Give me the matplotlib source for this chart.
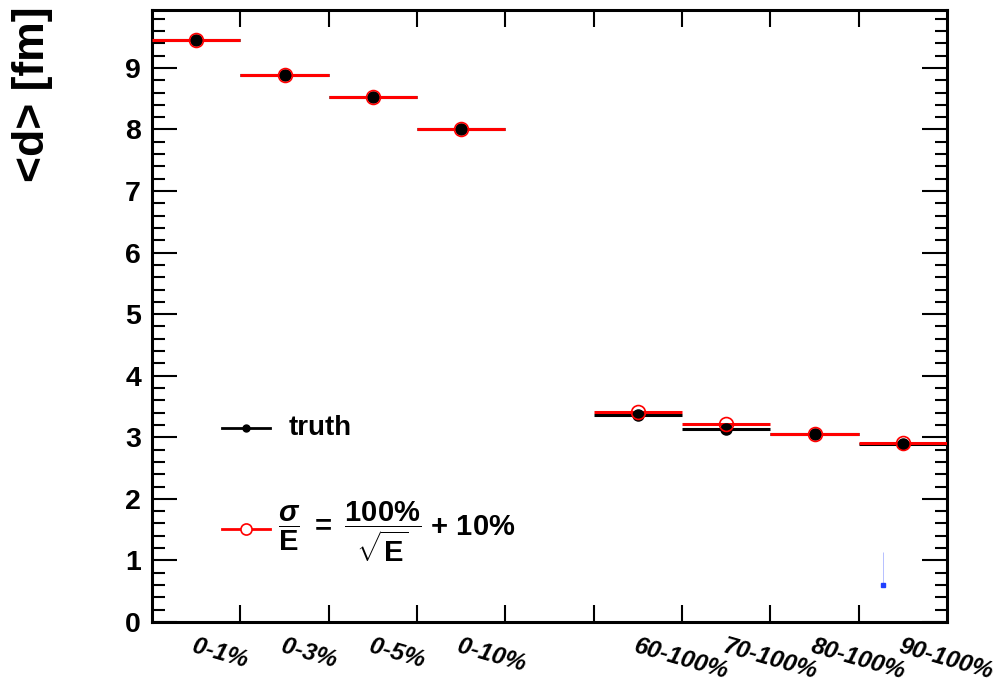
import numpy as np
import matplotlib
matplotlib.use("Agg")
import matplotlib.pyplot as plt
from matplotlib.ticker import MultipleLocator, FixedLocator

plt.rcParams['font.family'] = ['Liberation Sans', 'DejaVu Sans']
plt.rcParams['font.weight'] = 'bold'
plt.rcParams['mathtext.fontset'] = 'custom'
plt.rcParams['mathtext.rm'] = 'Liberation Sans:bold'
plt.rcParams['mathtext.bf'] = 'Liberation Sans:bold'
plt.rcParams['mathtext.it'] = 'Liberation Sans:bold:italic'

# ---- data ----
bin_labels = ['0-1%', '0-3%', '0-5%', '0-10%', '', '60-100%', '70-100%', '80-100%', '90-100%']
truth = [9.45, 8.88, 8.52, 8.00, np.nan, 3.37, 3.13, 3.05, 2.89]
smeared = [9.46, 8.88, 8.53, 8.01, np.nan, 3.41, 3.21, 3.05, 2.90]
blue_x = [8.28]
blue_y = [0.60]
blue_err_up = [0.53]

n = len(bin_labels)
centers = np.arange(n) + 0.5
half = 0.5

fig = plt.figure(figsize=(9.98, 6.87), dpi=100)
ax = fig.add_axes([152/998, 1-622/687, (947-152)/998, (622-10)/687])

# truth lines
ax.errorbar(centers, truth, xerr=half, fmt='none', ecolor='black', elinewidth=2.2, capsize=0, zorder=2)
# smeared lines
ax.errorbar(centers, smeared, xerr=half, fmt='none', ecolor='#ff0000', elinewidth=2.2, capsize=0, zorder=3)
# markers
ax.plot(centers, truth, 'o', color='black', markersize=8, zorder=4, linestyle='none')
ax.plot(centers, smeared, 'o', mfc='none', mec='#ff0000', markersize=10, mew=1.2, zorder=5, linestyle='none')
# blue point
ax.errorbar(blue_x, blue_y, yerr=[[0], blue_err_up], fmt='s', color='#2040ff', markersize=3,
            elinewidth=0.4, ecolor='#8090ff', capsize=0, zorder=6)

ax.set_xlim(0, n)
ax.set_ylim(0, 9.94)

# x ticks: labels at bin centers (invisible ticks), tick marks at bin edges
ax.xaxis.set_major_locator(FixedLocator(centers))
ax.set_xticklabels(bin_labels, rotation=-16, ha='left', va='top', rotation_mode='anchor',
                   fontsize=17.5, fontstyle='italic', fontweight='bold')
ax.xaxis.set_minor_locator(FixedLocator(np.arange(1, n)))
ax.tick_params(axis='x', which='major', length=0, pad=9, top=True)
ax.tick_params(axis='x', which='minor', length=12, width=1.5, direction='in', top=True, bottom=True)

# y ticks
ax.yaxis.set_major_locator(MultipleLocator(1))
ax.yaxis.set_minor_locator(MultipleLocator(0.2))
ax.tick_params(axis='y', which='major', length=18, width=1.5, direction='in', left=True, right=True,
               labelsize=20.5, pad=8)
ax.tick_params(axis='y', which='minor', length=9, width=1.5, direction='in', left=True, right=True)
for lbl in ax.get_yticklabels():
    lbl.set_fontweight('bold')

for s in ax.spines.values():
    s.set_linewidth(2.2)

fig.text(33/998, 1-6/687, '<d> [fm]', rotation=90, ha='center', va='top', fontsize=32, fontweight='bold')

# legend (manual, ROOT style)
ax.plot([0.088, 0.148], [0.317, 0.317], color='black', lw=2.0, transform=ax.transAxes, clip_on=False)
ax.plot([0.118], [0.317], 'o', color='black', markersize=5, transform=ax.transAxes, clip_on=False)
ax.text(0.172, 0.317, 'truth', transform=ax.transAxes, fontsize=20, fontweight='bold', va='center', ha='left')

ax.plot([0.088, 0.148], [0.152, 0.152], color='#ff0000', lw=2.0, transform=ax.transAxes, clip_on=False)
ax.plot([0.118], [0.152], 'o', mfc='white', mec='#ff0000', mew=1.2, markersize=8, transform=ax.transAxes, clip_on=False)
ax.text(0.158, 0.146, r'$\dfrac{\sigma}{\mathrm{E}}$ $=$ $\dfrac{100\%}{\sqrt{\mathrm{E}}}$ + 10%', transform=ax.transAxes,
        fontsize=21, fontweight='bold', va='center', ha='left')

fig.savefig('out.png', dpi=100)
